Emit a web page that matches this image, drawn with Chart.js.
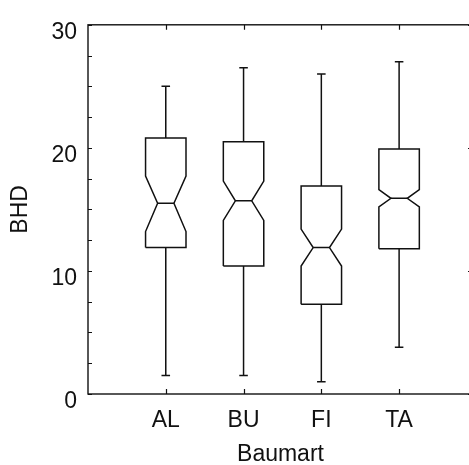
<!DOCTYPE html>
<html>
<head>
<meta charset="utf-8">
<script src="https://cdn.jsdelivr.net/npm/chart.js@4/dist/chart.umd.min.js"></script>
<style>
  html, body { margin: 0; padding: 0; background: #fff; overflow: hidden; }
  #wrap { width: 473px; height: 465px; position: relative; }
</style>
</head>
<body>
<div id="wrap"><canvas id="chart"></canvas></div>
<script>
// Baumart boxplot (notched)
const categories = ["AL", "BU", "FI", "TA"]
const whiskerLow = [1.5, 1.5, 1.0, 3.8]
const q1 = [11.9, 10.4, 7.3, 11.8]
const notchLow = [13.2, 14.1, 10.4, 15.2]
const median = [15.5, 15.7, 11.9, 15.9]
const notchHigh = [17.7, 17.3, 13.4, 16.6]
const q3 = [20.8, 20.5, 16.9, 19.9]
const whiskerHigh = [25.0, 26.5, 26.0, 27.0]
const yTicks = [0, 10, 20, 30]

const BOX_HALF = 0.26
const NOTCH_HALF = 0.105
const CAP_HALF = 0.055
const INK = "#111"

const datasets = []
categories.forEach((cat, i) => {
  const c = i + 1
  // notched box outline
  datasets.push({
    label: cat + " box",
    data: [
      { x: c - BOX_HALF, y: q1[i] },
      { x: c - BOX_HALF, y: notchLow[i] },
      { x: c - NOTCH_HALF, y: median[i] },
      { x: c - BOX_HALF, y: notchHigh[i] },
      { x: c - BOX_HALF, y: q3[i] },
      { x: c + BOX_HALF, y: q3[i] },
      { x: c + BOX_HALF, y: notchHigh[i] },
      { x: c + NOTCH_HALF, y: median[i] },
      { x: c + BOX_HALF, y: notchLow[i] },
      { x: c + BOX_HALF, y: q1[i] },
      { x: c - BOX_HALF, y: q1[i] }
    ]
  })
  // median + whiskers, gaps via null
  datasets.push({
    label: cat + " lines",
    data: [
      { x: c - NOTCH_HALF, y: median[i] },
      { x: c + NOTCH_HALF, y: median[i] },
      { x: c, y: null },
      { x: c, y: q3[i] },
      { x: c, y: whiskerHigh[i] },
      { x: c, y: null },
      { x: c - CAP_HALF, y: whiskerHigh[i] },
      { x: c + CAP_HALF, y: whiskerHigh[i] },
      { x: c, y: null },
      { x: c, y: q1[i] },
      { x: c, y: whiskerLow[i] },
      { x: c, y: null },
      { x: c - CAP_HALF, y: whiskerLow[i] },
      { x: c + CAP_HALF, y: whiskerLow[i] }
    ]
  })
})

// frame + inward tick marks
const framePlugin = {
  id: "frame",
  afterDraw(chart) {
    const { ctx, chartArea: a, scales } = chart
    const x = scales.x, y = scales.y
    ctx.save()
    ctx.strokeStyle = INK
    ctx.lineWidth = 1.4
    ctx.strokeRect(a.left, a.top, a.right - a.left, a.bottom - a.top)
    ctx.lineWidth = 1.2
    ctx.beginPath()
    for (let v = y.min; v <= y.max; v += 2.5) {
      const py = Math.round(y.getPixelForValue(v)) + 0.5
      ctx.moveTo(a.left, py); ctx.lineTo(a.left + 4, py)
      const len = v % 10 === 0 ? 5 : 2
      ctx.moveTo(a.right, py); ctx.lineTo(a.right - len, py)
    }
    categories.forEach((cat, i) => {
      const px = Math.round(x.getPixelForValue(i + 1)) + 0.5
      ctx.moveTo(px, a.top); ctx.lineTo(px, a.top + 5)
      ctx.moveTo(px, a.bottom); ctx.lineTo(px, a.bottom - 5)
    })
    ctx.stroke()
    ctx.restore()
  }
}

const font = { family: "'Liberation Sans', Arial, sans-serif", size: 23 }

new Chart(document.getElementById("chart"), {
  type: "scatter",
  data: { datasets },
  plugins: [framePlugin],
  options: {
    responsive: true,
    maintainAspectRatio: false,
    animation: false,
    layout: { padding: { top: 15, right: 0, left: 0, bottom: 0 } },
    showLine: true,
    elements: {
      point: { radius: 0, hoverRadius: 0 },
      line: { borderColor: INK, borderWidth: 1.5, tension: 0 }
    },
    spanGaps: false,
    plugins: {
      legend: { display: false },
      tooltip: { enabled: false }
    },
    scales: {
      x: {
        type: "linear",
        min: 0,
        max: 4.95,
        afterBuildTicks: (scale) => {
          scale.ticks = categories.map((c, i) => ({ value: i + 1 }))
        },
        afterFit: (scale) => { scale.height = 71 },
        grid: { display: false, drawTicks: false },
        border: { display: false },
        ticks: {
          color: INK,
          font,
          padding: 13,
          maxRotation: 0,
          callback: (v) => categories[v - 1]
        },
        title: {
          display: true,
          text: "Baumart",
          color: INK,
          font,
          padding: { top: 0, bottom: -3 }
        }
      },
      y: {
        min: 0,
        max: 30,
        afterBuildTicks: (scale) => {
          scale.ticks = yTicks.map(v => ({ value: v }))
        },
        afterFit: (scale) => { scale.width = 88 },
        grid: { display: false, drawTicks: false },
        border: { display: false },
        ticks: {
          color: INK,
          font,
          padding: 11,
          labelOffset: 8
        },
        title: {
          display: true,
          text: "BHD",
          color: INK,
          font,
          padding: { top: 7, bottom: 0 }
        }
      }
    }
  }
})
</script>
</body>
</html>
